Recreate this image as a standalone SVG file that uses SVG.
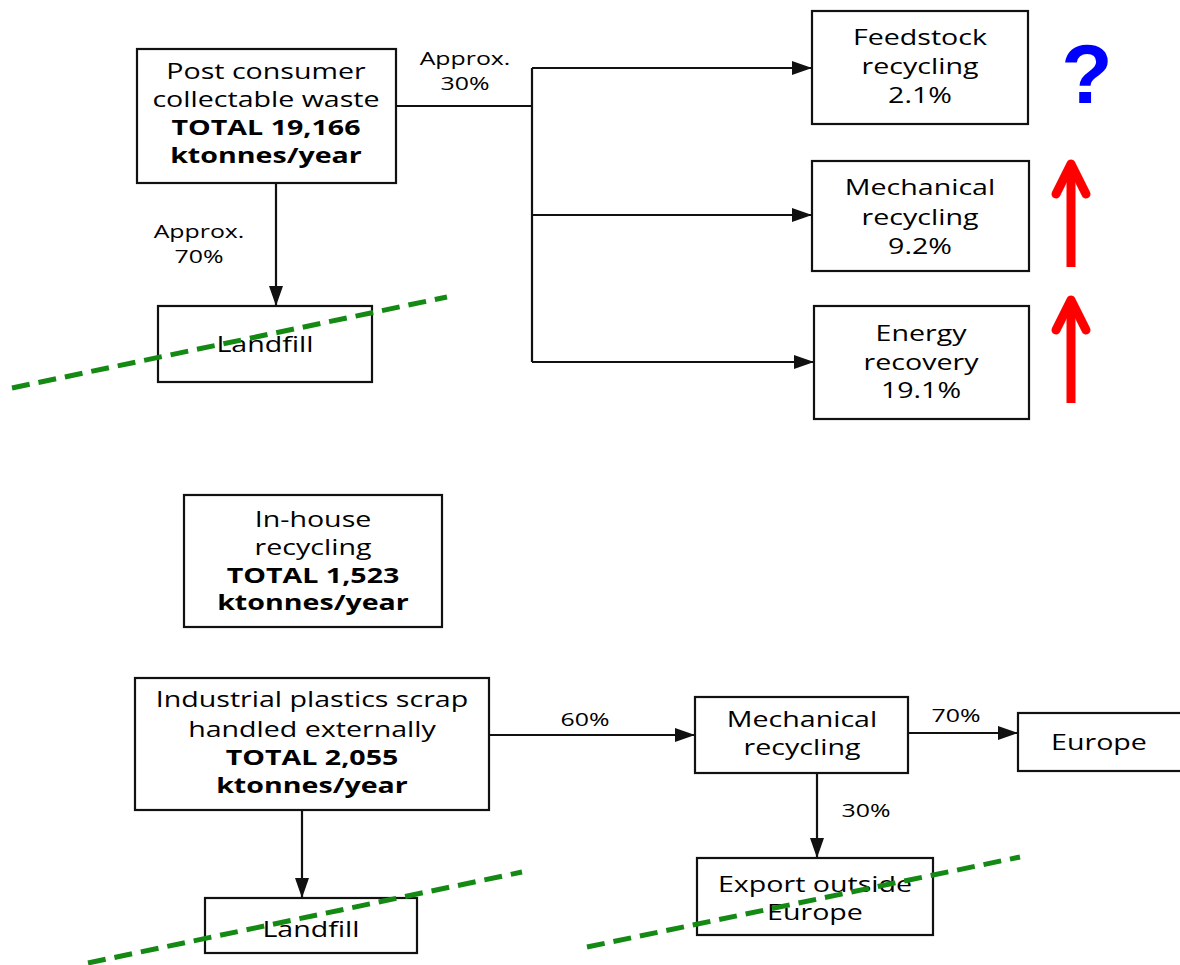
<svg xmlns="http://www.w3.org/2000/svg" width="1180" height="965" viewBox="0 0 1180 965">
<style>
.box{fill:#fff;stroke:#111;stroke-width:2.2}
.t{font-family:"Open Sans","Noto Sans",sans-serif;font-size:22px;fill:#000;text-anchor:middle}
.b{font-weight:bold}
.lbl{font-family:"Open Sans","Noto Sans",sans-serif;font-size:17.5px;fill:#000;text-anchor:middle}
.c{fill:none;stroke:#111;stroke-width:2.2}
.ca{fill:none;stroke:#111;stroke-width:2.2;marker-end:url(#ah)}
.cut{fill:none;stroke:#148a14;stroke-width:5;stroke-dasharray:18 9}
.red{fill:none;stroke:#ff0000;stroke-width:9}
</style>
<defs>
<marker id="ah" markerUnits="userSpaceOnUse" markerWidth="20" markerHeight="14" refX="20" refY="7" orient="auto">
<path d="M0,0 L20,7 L0,14 z" fill="#111"/>
</marker>
</defs>
<rect width="1180" height="965" fill="#fff"/>

<g id="connectors">
<path class="c" d="M396,106 H532 M532,68 V362"/>
<path class="ca" d="M532,68 H812"/>
<path class="ca" d="M532,215 H812"/>
<path class="ca" d="M532,362 H814"/>
<path class="ca" d="M276,183 V306"/>
<path class="ca" d="M489,735 H695"/>
<path class="ca" d="M908,733 H1018"/>
<path class="ca" d="M817,773 V858"/>
<path class="ca" d="M302,810 V898"/>
<g transform="translate(465,0) scale(1.42,1)"><text class="lbl" x="0" y="65">Approx.</text><text class="lbl" x="0" y="90">30%</text></g>
<g transform="translate(199,0) scale(1.42,1)"><text class="lbl" x="0" y="238">Approx.</text><text class="lbl" x="0" y="263">70%</text></g>
<g transform="translate(585,0) scale(1.42,1)"><text class="lbl" x="0" y="726">60%</text></g>
<g transform="translate(956,0) scale(1.42,1)"><text class="lbl" x="0" y="722">70%</text></g>
<g transform="translate(866,0) scale(1.42,1)"><text class="lbl" x="0" y="817">30%</text></g>
</g>

<g id="post-consumer">
<rect class="box" x="137" y="49" width="259" height="134"/>
<g transform="translate(266,0) scale(1.3,1)">
<text class="t" x="0" y="79">Post consumer</text>
<text class="t" x="0" y="107">collectable waste</text>
<text class="t b" x="0" y="135">TOTAL 19,166</text>
<text class="t b" x="0" y="163">ktonnes/year</text>
</g>
</g>

<g id="feedstock">
<rect class="box" x="812" y="11" width="216" height="113"/>
<g transform="translate(920,0) scale(1.3,1)">
<text class="t" x="0" y="45">Feedstock</text>
<text class="t" x="0" y="74">recycling</text>
<text class="t" x="0" y="103">2.1%</text>
</g>
</g>

<g id="mechanical-top">
<rect class="box" x="812" y="161" width="217" height="110"/>
<g transform="translate(920,0) scale(1.3,1)">
<text class="t" x="0" y="195">Mechanical</text>
<text class="t" x="0" y="225">recycling</text>
<text class="t" x="0" y="254">9.2%</text>
</g>
</g>

<g id="energy">
<rect class="box" x="814" y="306" width="215" height="113"/>
<g transform="translate(921,0) scale(1.3,1)">
<text class="t" x="0" y="341">Energy</text>
<text class="t" x="0" y="370">recovery</text>
<text class="t" x="0" y="398">19.1%</text>
</g>
</g>

<g id="landfill-top">
<rect class="box" x="158" y="306" width="214" height="76"/>
<g transform="translate(265,0) scale(1.3,1)">
<text class="t" x="0" y="352">Landfill</text>
</g>
</g>

<g id="in-house">
<rect class="box" x="184" y="495" width="258" height="132"/>
<g transform="translate(313,0) scale(1.3,1)">
<text class="t" x="0" y="527">In-house</text>
<text class="t" x="0" y="555">recycling</text>
<text class="t b" x="0" y="583">TOTAL 1,523</text>
<text class="t b" x="0" y="610">ktonnes/year</text>
</g>
</g>

<g id="industrial">
<rect class="box" x="135" y="678" width="354" height="132"/>
<g transform="translate(312,0) scale(1.3,1)">
<text class="t" x="0" y="707">Industrial plastics scrap</text>
<text class="t" x="0" y="737">handled externally</text>
<text class="t b" x="0" y="765">TOTAL 2,055</text>
<text class="t b" x="0" y="793">ktonnes/year</text>
</g>
</g>

<g id="mechanical-bottom">
<rect class="box" x="695" y="697" width="213" height="76"/>
<g transform="translate(802,0) scale(1.3,1)">
<text class="t" x="0" y="727">Mechanical</text>
<text class="t" x="0" y="755">recycling</text>
</g>
</g>

<g id="europe">
<rect class="box" x="1018" y="713" width="165" height="58"/>
<g transform="translate(1099,0) scale(1.3,1)">
<text class="t" x="0" y="750">Europe</text>
</g>
</g>

<g id="export">
<rect class="box" x="697" y="858" width="236" height="77"/>
<g transform="translate(815,0) scale(1.3,1)">
<text class="t" x="0" y="892">Export outside</text>
<text class="t" x="0" y="920">Europe</text>
</g>
</g>

<g id="landfill-bottom">
<rect class="box" x="205" y="898" width="212" height="55"/>
<g transform="translate(311,0) scale(1.3,1)">
<text class="t" x="0" y="937">Landfill</text>
</g>
</g>

<g id="annotations">
<text x="1087" y="103" font-family="'Liberation Sans',Arial,sans-serif" font-weight="bold" font-size="84" fill="#0000ff" text-anchor="middle">?</text>
<path class="red" d="M1071,267 V168"/>
<path class="red" d="M1056,194 L1071,164 L1086,194" stroke-linecap="round" stroke-linejoin="round"/>
<path class="red" d="M1071,403 V304"/>
<path class="red" d="M1056,330 L1071,300 L1086,330" stroke-linecap="round" stroke-linejoin="round"/>
<path class="cut" d="M12,388 L447,297"/>
<path class="cut" d="M587,947 L1020,857"/>
<path class="cut" d="M88,963 L522,872"/>
</g>
</svg>
